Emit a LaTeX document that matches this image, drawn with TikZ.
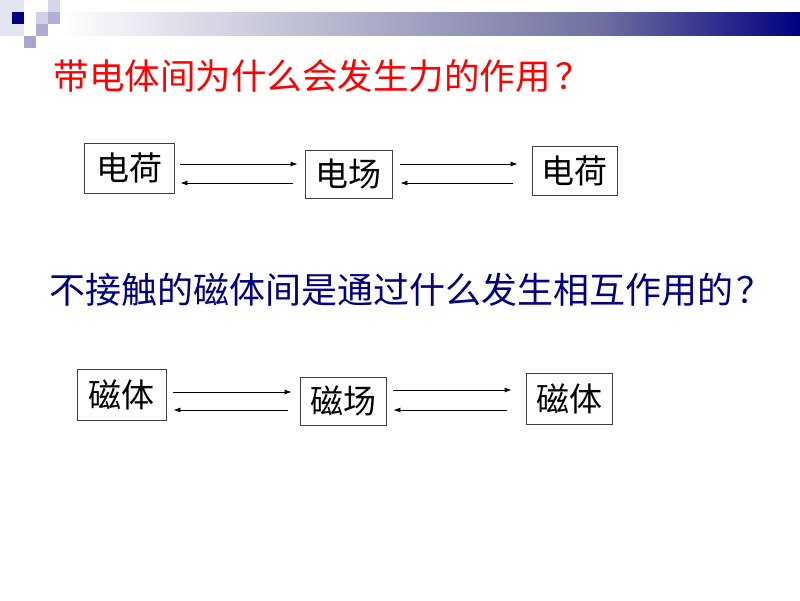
\documentclass[tikz,border=0pt]{standalone}
\usepackage{fontspec}
\usepackage{tikz}
\usetikzlibrary{arrows.meta}
\setmainfont{Noto Sans CJK SC}
\definecolor{navy}{RGB}{0,0,128}
\definecolor{lav}{RGB}{150,150,200}
\definecolor{pale}{RGB}{228,228,242}
\definecolor{barmid}{RGB}{112,112,160}

\begin{document}
\begin{tikzpicture}[x=1pt,y=-1pt,
	box/.style={draw=black!75,line width=0.8pt,inner sep=0pt,font=\fontsize{33}{36}\selectfont},
	link/.style={line width=0.8pt,-{Latex[length=7pt,width=5pt]}}]
	\useasboundingbox (0,0) rectangle (800,600);
	% corner squares and top bar
	\fill[pale] (0,0) rectangle (12,36);
	\fill[pale] (12,0) rectangle (24,12);
	\fill[pale] (12,24) rectangle (24,36);
	\fill[navy] (12,12) rectangle (24,24);
	\fill[lav!40] (48,0) rectangle (60,12);
	\fill[lav!45] (36,12) rectangle (48,24);
	\fill[lav!75] (48,12) rectangle (60,24);
	\fill[lav!80] (36,24) rectangle (48,36);
	\fill[lav!85] (24,36) rectangle (36,48);
	\shade[left color=white,right color=barmid] (60,12) rectangle (600,35);
	\shade[left color=barmid,right color=navy] (600,12) rectangle (800,35);
	% questions
	\node[anchor=west,red,font=\fontsize{35.5}{40}\selectfont] (t1) at (50,76) {带电体间为什么会发生力的作用\hspace{5pt}？};
	\node[anchor=west,navy,font=\fontsize{36}{40}\selectfont] (t2) at (46,290) {不接触的磁体间是通过什么发生相互作用的\hspace{3pt}？};
	% electric
	\node[box,minimum width=90,minimum height=50] (q1) at (129,168) {电荷};
	\node[box,minimum width=87,minimum height=48] (f1) at (348.5,174) {电场};
	\node[box,minimum width=85,minimum height=49] (q2) at (574.5,171) {电荷};
	\draw[link,shorten <=6pt,shorten >=7pt] (q1.east |- 0,164) -- (f1.west |- 0,164);
	\draw[link,shorten <=12pt,shorten >=6pt] (f1.west |- 0,183) -- (q1.east |- 0,183);
	\draw[link,shorten <=8pt,shorten >=14pt] (f1.east |- 0,164) -- (q2.west |- 0,164);
	\draw[link,shorten <=19pt,shorten >=8pt] (q2.west |- 0,183) -- (f1.east |- 0,183);
	% magnetic
	\node[box,minimum width=89,minimum height=51] (m1) at (121.5,394.5) {磁体};
	\node[box,minimum width=86,minimum height=48] (f2) at (343,401) {磁场};
	\node[box,minimum width=86,minimum height=51] (m2) at (569,399) {磁体};
	\draw[link,shorten <=7pt,shorten >=8pt] (m1.east |- 0,392) -- (f2.west |- 0,392);
	\draw[link,shorten <=12pt,shorten >=7pt] (f2.west |- 0,410) -- (m1.east |- 0,410);
	\draw[link,shorten <=7pt,shorten >=14pt] (f2.east |- 0,390) -- (m2.west |- 0,390);
	\draw[link,shorten <=19pt,shorten >=7pt] (m2.west |- 0,410) -- (f2.east |- 0,410);
\end{tikzpicture}
\end{document}
